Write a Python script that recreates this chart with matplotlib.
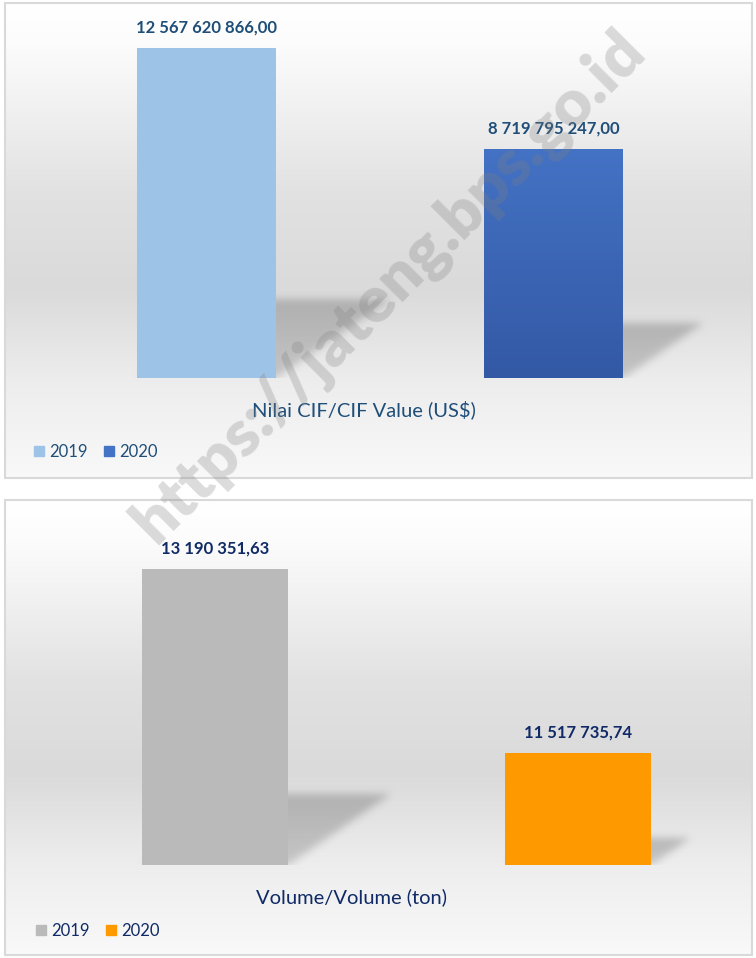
import numpy as np
import matplotlib.pyplot as plt
from matplotlib.patches import Rectangle, Patch
from matplotlib.colors import LinearSegmentedColormap

# data
years = ["2019", "2020"]
cif_values = [12567620866.00, 8719795247.00]
cif_labels = ["12 567 620 866,00", "8 719 795 247,00"]
vol_values = [13190351.63, 11517735.74]
vol_labels = ["13 190 351,63", "11 517 735,74"]

W, H = 756, 958
plt.rcParams['font.family'] = ['Lato', 'DejaVu Sans']
fig = plt.figure(figsize=(W / 100, H / 100), dpi=100)


def rect(x0, y0, x1, y1):
    # pixel box (top-left origin) -> figure fraction
    return [x0 / W, 1 - y1 / H, (x1 - x0) / W, (y1 - y0) / H]


# background gradient of the chart area
stops = [(0.0, 1.0), (0.08, 0.99), (0.4, 0.885), (0.6, 0.855), (0.8, 0.93), (1.0, 0.975)]
pos = np.linspace(0, 1, 300)
shade = np.interp(pos, [s[0] for s in stops], [s[1] for s in stops])
bg_img = np.repeat(shade[:, None, None], 3, axis=2).repeat(2, axis=1)


def panel(box):
    bg = fig.add_axes(rect(*box))
    bg.imshow(bg_img, aspect='auto', extent=[0, 1, 0, 1], origin='upper')
    bg.add_patch(Rectangle((0, 0), 1, 1, transform=bg.transAxes, fill=False,
                           edgecolor='#d9d9d9', lw=1.5, clip_on=False))
    bg.set_xlim(0, 1)
    bg.set_ylim(0, 1)
    bg.set_axis_off()


def blur(a, sigma):
    k = np.arange(-3 * sigma, 3 * sigma + 1)
    g = np.exp(-k ** 2 / (2 * sigma ** 2))
    g /= g.sum()
    a = np.apply_along_axis(lambda r: np.convolve(r, g, mode='same'), 0, a)
    return np.apply_along_axis(lambda r: np.convolve(r, g, mode='same'), 1, a)


def shadows(ax, xs, vals, base, width):
    # soft perspective shadow behind each bar
    xl, yl = ax.get_xlim(), ax.get_ylim()
    bb = ax.get_window_extent()
    nx, ny = int(bb.width), int(bb.height)
    ppx = bb.width / (xl[1] - xl[0])
    ppy = bb.height / (yl[1] - yl[0])
    px, py = np.meshgrid(np.arange(nx) + 0.5, np.arange(ny) + 0.5)
    mask = np.zeros((ny, nx))
    for x, v in zip(xs, vals):
        h = (v - base) * ppy * 0.24
        dx = h * 1.45
        yb = (base - yl[0]) * ppy
        x0 = (x - width / 2 - xl[0]) * ppx
        x1 = (x + width / 2 - xl[0]) * ppx
        s = (py - yb) / h * dx
        inside = (py >= yb) & (py <= yb + h) & (px >= x0 + s) & (px <= x1 + s)
        dark = 0.75 + 0.25 * np.clip((py - yb) / h, 0, 1)
        mask = np.maximum(mask, inside * dark)
    mask = blur(mask, 4)
    img = np.zeros((ny, nx, 4))
    img[..., :3] = 0.45
    img[..., 3] = mask * 0.42
    ax.imshow(img, extent=[xl[0], xl[1], yl[0], yl[1]], origin='lower', aspect='auto', zorder=1)
    ax.set_xlim(xl)
    ax.set_ylim(yl)


# ---------- top chart: CIF value ----------
panel((5, 3, 752, 478))
ax1 = fig.add_axes(rect(5, 20, 752, 378))
ax1.set_xlim(-0.58, 1.57)
ax1.set_ylim(0, 13.63e9)
fig.canvas.draw()
shadows(ax1, [0, 1], cif_values, 0, 0.4)
bars1 = ax1.bar([0, 1], cif_values, width=0.4, color=['#9dc3e6', '#4472c4'], zorder=2)
grad = LinearSegmentedColormap.from_list('bl', ['#4472c4', '#3359a5'])
im = ax1.imshow(np.linspace(0, 1, 100)[:, None], cmap=grad, aspect='auto', origin='upper',
                extent=[0.8, 1.2, 0, cif_values[1]], zorder=3)
im.set_clip_path(bars1[1])
ax1.set_xlim(-0.58, 1.57)
ax1.set_ylim(0, 13.63e9)
for x, v, t in zip([0, 1], cif_values, cif_labels):
    ax1.annotate(t, (x, v), xytext=(0, 14.5), textcoords='offset points', ha='center',
                 va='center', fontsize=12, fontweight='bold', color='#1f4e79', zorder=5)
ax1.set_axis_off()
fig.text(364 / W, 1 - 410 / H, "Nilai CIF/CIF Value (US$)", ha='center', va='center',
         fontsize=14.5, color='#1f4e79')
fig.legend(handles=[Patch(color='#9dc3e6'), Patch(color='#4472c4')], labels=years,
           loc='center left', bbox_to_anchor=(34 / W, 1 - 452 / H), ncol=2, frameon=False,
           borderpad=0, borderaxespad=0, handlelength=0.6, handleheight=0.6,
           handletextpad=0.3, columnspacing=1.0, fontsize=12, labelcolor='#1f4e79')

# ---------- bottom chart: volume ----------
panel((5, 500, 752, 955))
ax2 = fig.add_axes(rect(5, 520, 752, 864.7))
ax2.set_xlim(-0.579, 1.479)
ax2.set_ylim(10.5e6, 13.64e6)
fig.canvas.draw()
shadows(ax2, [0, 1], vol_values, 10.5e6, 0.402)
ax2.bar([0, 1], np.array(vol_values) - 10.5e6, bottom=10.5e6, width=0.402,
        color=['#bababa', '#ff9900'], zorder=2)
for x, v, t in zip([0, 1], vol_values, vol_labels):
    ax2.annotate(t, (x, v), xytext=(0, 15), textcoords='offset points', ha='center',
                 va='center', fontsize=12, fontweight='bold', color='#0f2a66', zorder=5)
ax2.set_axis_off()
fig.text(352 / W, 1 - 897 / H, "Volume/Volume (ton)", ha='center', va='center',
         fontsize=14.5, color='#0f2a66')
fig.legend(handles=[Patch(color='#bababa'), Patch(color='#ff9900')], labels=years,
           loc='center left', bbox_to_anchor=(36 / W, 1 - 931 / H), ncol=2, frameon=False,
           borderpad=0, borderaxespad=0, handlelength=0.6, handleheight=0.6,
           handletextpad=0.3, columnspacing=1.0, fontsize=12, labelcolor='#0f2a66')

# watermark
fig.text(389 / W, 1 - 287 / H, "https://jateng.bps.go.id", ha='center', va='center',
         rotation=45, fontsize=47, fontweight='heavy', color='#808080', alpha=0.28, zorder=10)

fig.savefig('out.png', dpi=100)
